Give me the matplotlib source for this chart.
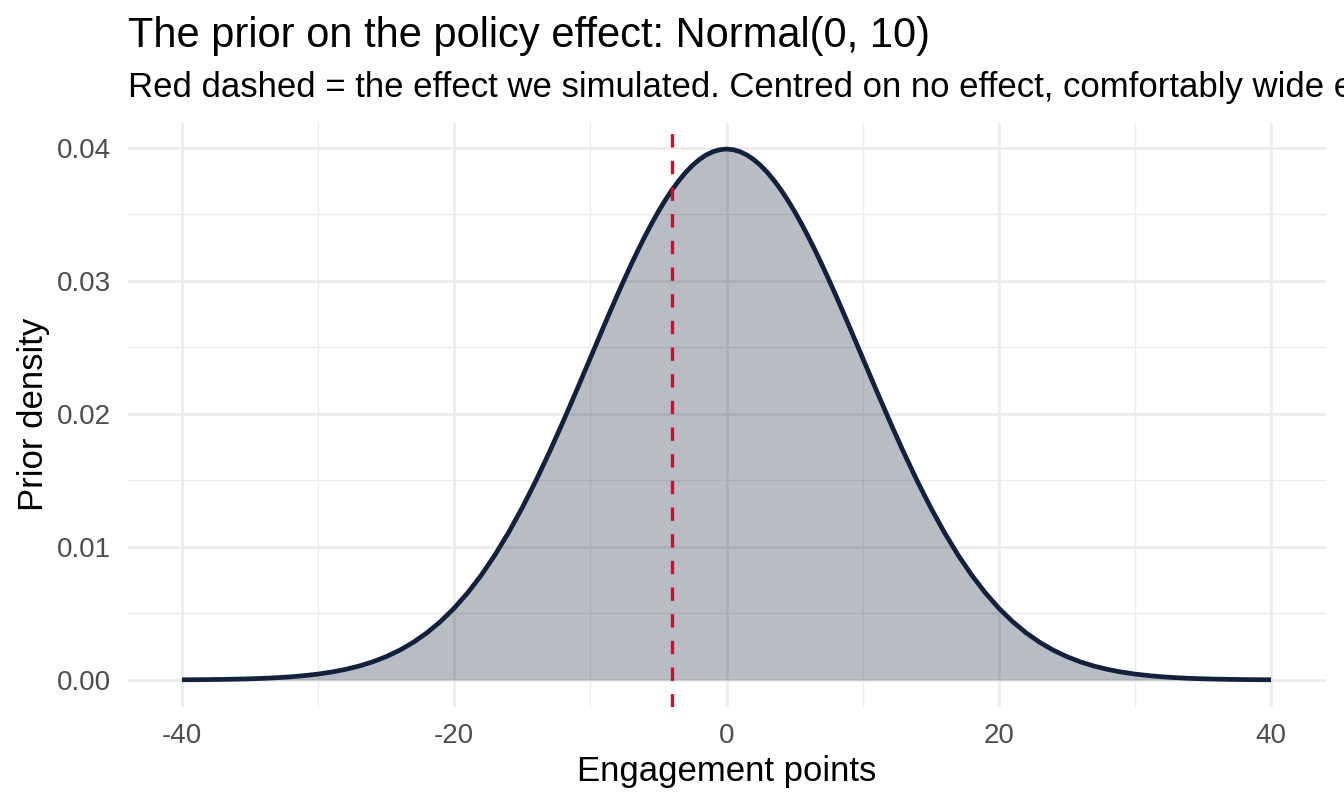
import numpy as np
import matplotlib.pyplot as plt
from matplotlib.ticker import FixedLocator, FormatStrFormatter

plt.rcParams['font.family'] = ['Liberation Sans', 'DejaVu Sans']
plt.rcParams['axes.unicode_minus'] = False

# prior density; finer steps around the peak
effect = np.concatenate([np.arange(-40, -8), np.arange(-8.5, 9, 0.5), np.arange(9, 41)])
density = [
    # -40 .. -9
    0.0000134, 0.0000199, 0.0000292, 0.0000425, 0.0000612, 0.0000873, 0.000123, 0.000172,
    0.000238, 0.000327, 0.000443, 0.000595, 0.000792, 0.001042, 0.001358, 0.001753,
    0.002239, 0.002833, 0.003547, 0.004398, 0.005399, 0.006562, 0.007895, 0.009405,
    0.011092, 0.012952, 0.014973, 0.017137, 0.019419, 0.021785, 0.024197, 0.026609,
    # -8.5 .. -0.5
    0.027798, 0.028969, 0.030114, 0.031225, 0.032297, 0.033322, 0.034294, 0.035207,
    0.036053, 0.036827, 0.037524, 0.038139, 0.038667, 0.039104, 0.039448, 0.039695,
    0.039844,
    # 0
    0.039894,
    # 0.5 .. 8.5
    0.039844, 0.039695, 0.039448, 0.039104, 0.038667, 0.038139, 0.037524, 0.036827,
    0.036053, 0.035207, 0.034294, 0.033322, 0.032297, 0.031225, 0.030114, 0.028969,
    0.027798,
    # 9 .. 40
    0.026609, 0.024197, 0.021785, 0.019419, 0.017137, 0.014973, 0.012952, 0.011092,
    0.009405, 0.007895, 0.006562, 0.005399, 0.004398, 0.003547, 0.002833, 0.002239,
    0.001753, 0.001358, 0.001042, 0.000792, 0.000595, 0.000443, 0.000327, 0.000238,
    0.000172, 0.000123, 0.0000873, 0.0000612, 0.0000425, 0.0000292, 0.0000199, 0.0000134,
]
simulated_effect = -4
x_ticks = [-40, -20, 0, 20, 40]
y_ticks = [0.00, 0.01, 0.02, 0.03, 0.04]

navy = '#14213D'
red = '#C8102E'
grid_col = '#EBEBEB'

W, H = 1344, 806
fig = plt.figure(figsize=(W / 100, H / 100), dpi=100)
ax = fig.add_axes([127.5 / W, (H - 706.5) / H, (1325.5 - 127.5) / W, (706.5 - 122.5) / H])

ax.fill_between(effect, density, 0, color=navy, alpha=0.3, lw=0, zorder=2)
ax.plot(effect, density, color=navy, lw=3.4, zorder=3, solid_capstyle='butt',
        solid_joinstyle='round')
ax.axvline(simulated_effect, color=red, lw=2.4, dashes=(4, 4), zorder=4)

ax.set_xlim(-44, 44)
ax.set_ylim(-0.0019946, 0.0418886)
ax.xaxis.set_major_locator(FixedLocator(x_ticks))
ax.xaxis.set_minor_locator(FixedLocator([-30, -10, 10, 30]))
ax.yaxis.set_major_locator(FixedLocator(y_ticks))
ax.yaxis.set_minor_locator(FixedLocator([0.005, 0.015, 0.025, 0.035]))
ax.yaxis.set_major_formatter(FormatStrFormatter('%.2f'))

ax.grid(which='major', color=grid_col, lw=1.8, zorder=0)
ax.grid(which='minor', color=grid_col, lw=0.95, zorder=0)
ax.set_axisbelow(True)
for s in ax.spines.values():
    s.set_visible(False)
ax.tick_params(which='both', length=0, labelsize=20, labelcolor='#4D4D4D')
ax.tick_params(axis='x', pad=12)
ax.tick_params(axis='y', pad=12)

ax.set_xlabel('Engagement points', fontsize=25, labelpad=4)
ax.set_ylabel('Prior density', fontsize=25, labelpad=4.5)

fig.text(128 / W, 1 - 47 / H, 'The prior on the policy effect: Normal(0, 10)',
         fontsize=30, ha='left', va='baseline')
fig.text(128 / W, 1 - 97 / H,
         'Red dashed = the effect we simulated. Centred on no effect, comfortably wide either way.',
         fontsize=25, ha='left', va='baseline')

fig.savefig('out.png', dpi=100)
